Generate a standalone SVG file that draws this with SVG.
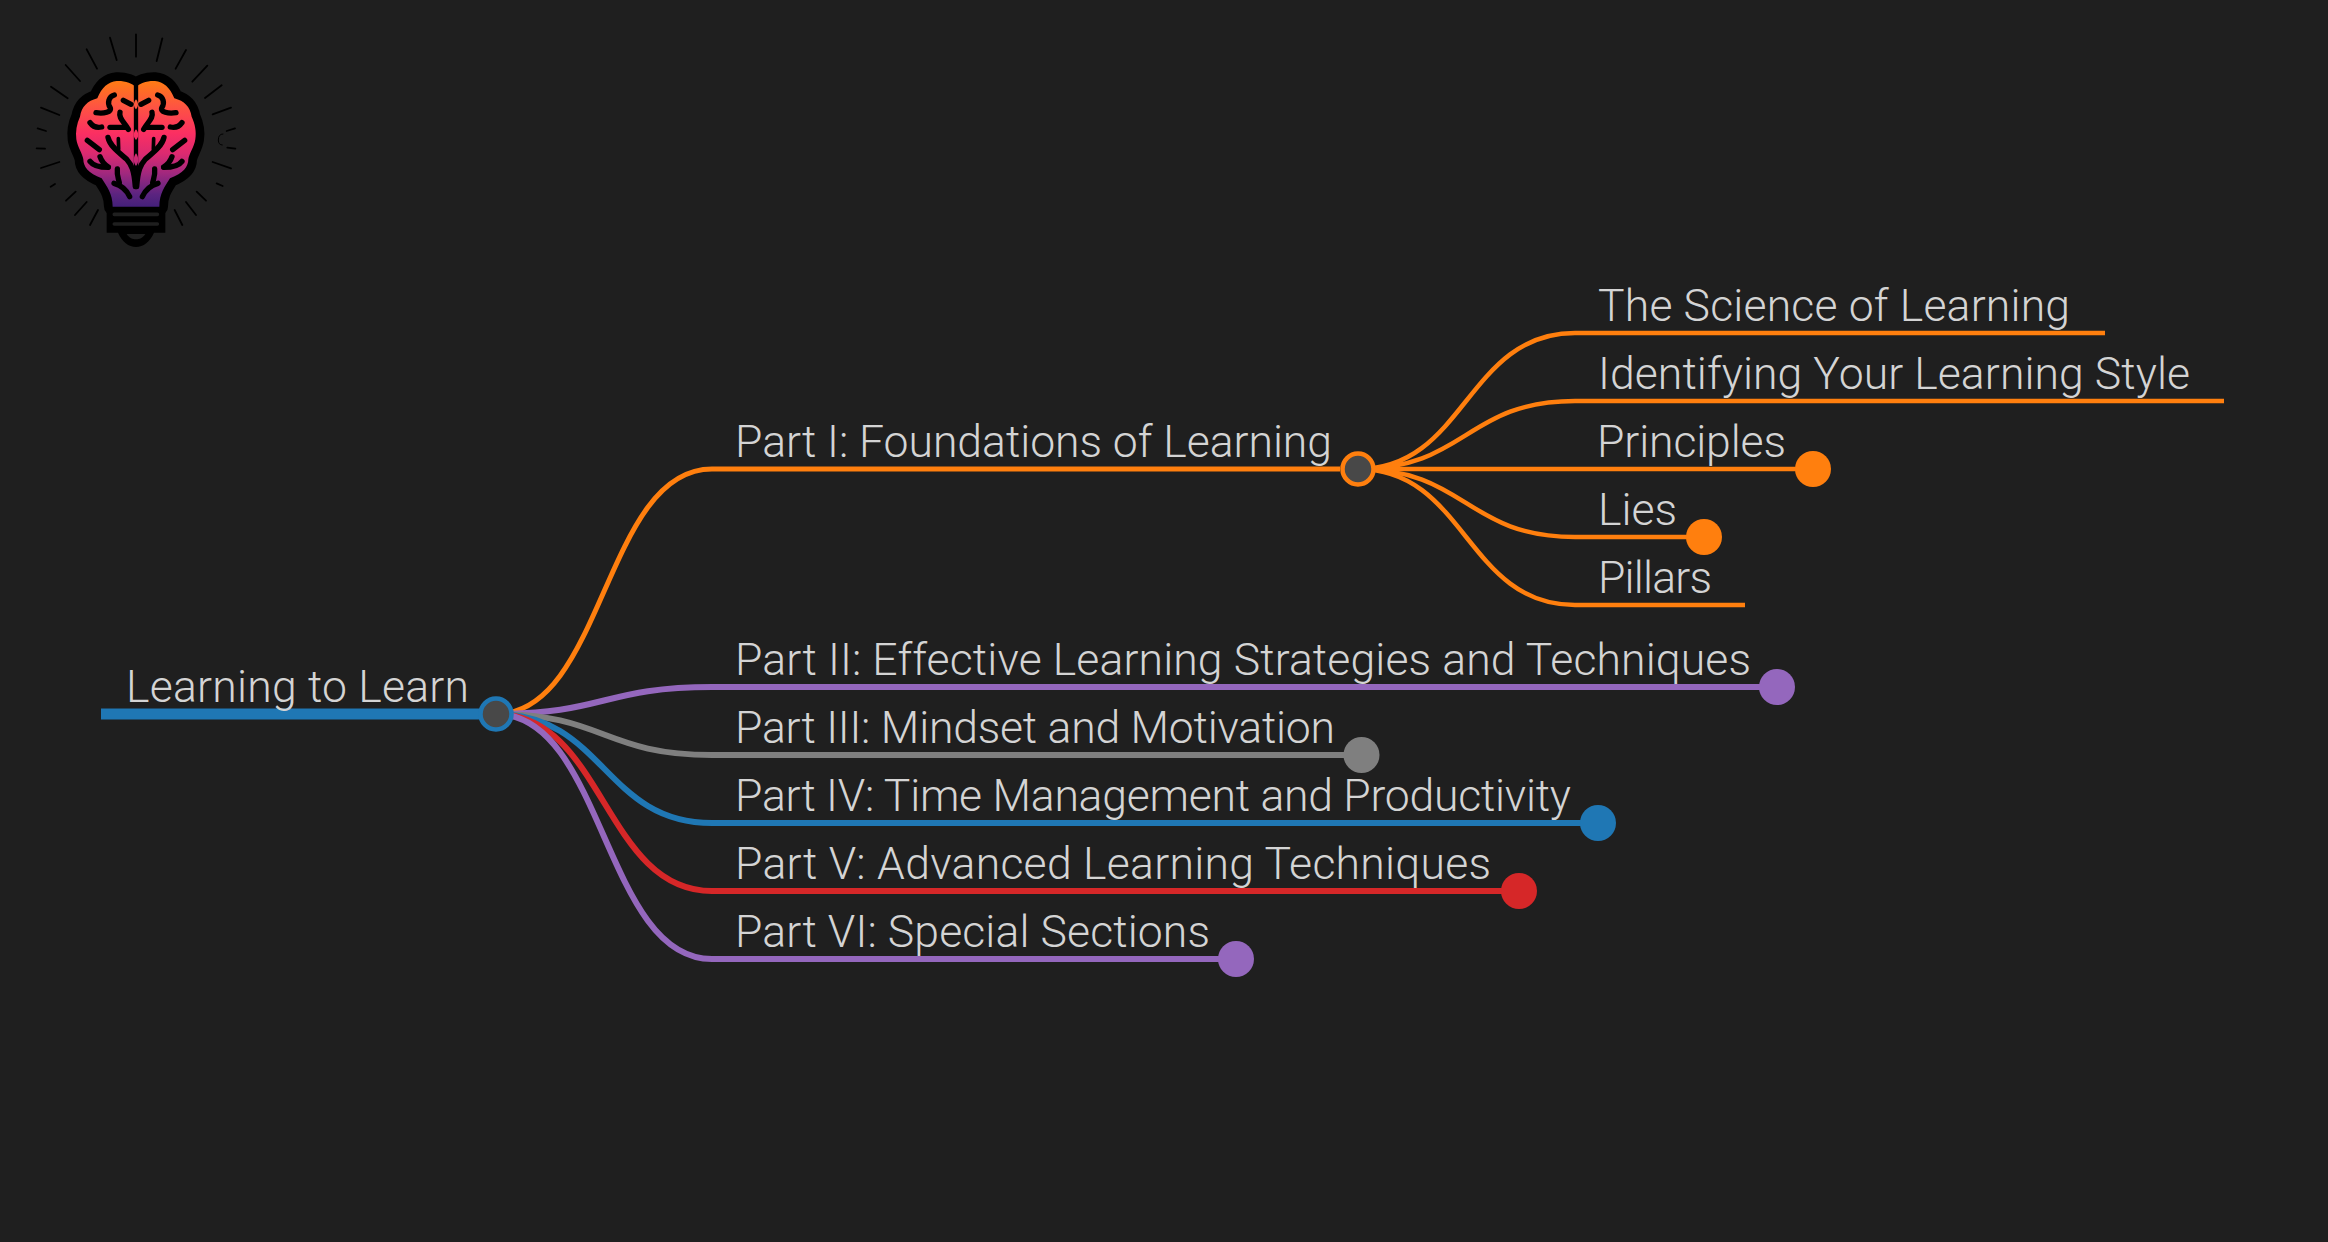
<svg xmlns="http://www.w3.org/2000/svg" xmlns:xlink="http://www.w3.org/1999/xlink" width="2328" height="1242" viewBox="0 0 2328 1242">
<style>
text{font-family:Roboto,"Liberation Sans",Arial,sans-serif;font-weight:300;font-size:44.5px;fill:#d4d4d4}
.l{fill:none;stroke-width:6}
.l3{fill:none;stroke-width:4.5;stroke:#ff7f0e}
.o{stroke:#ff7f0e;stroke-width:5}.p{stroke:#9467bd}.g{stroke:#7f7f7f}.b{stroke:#1f77b4}.r{stroke:#d62728}
.hub{fill:#484848;stroke-width:4.5}
.ray{stroke:#000;stroke-width:5.5;stroke-linecap:round;fill:none}
.v{stroke:#000;stroke-width:16;stroke-linecap:round;stroke-linejoin:round;fill:none}
.v2{stroke:#000;stroke-width:11;stroke-linecap:round;stroke-linejoin:round;fill:none}
</style>
<defs>
<linearGradient id="bg" gradientUnits="userSpaceOnUse" x1="0" y1="240" x2="0" y2="620">
<stop offset="0" stop-color="#ff7d12"/><stop offset=".2" stop-color="#fe5640"/><stop offset=".42" stop-color="#fb2f62"/><stop offset=".58" stop-color="#dc2a70"/><stop offset=".74" stop-color="#a0287e"/><stop offset=".9" stop-color="#5c2480"/><stop offset="1" stop-color="#44207a"/>
</linearGradient>
<path id="brain" d="M408 262C398 250 375 242 350 243C325 245 305 262 292 295C262 303 245 320 240 350C230 372 226 395 229 418C232 440 248 462 250 478C250 500 265 520 305 535C320 560 338 580 338 620H478C478 580 495 560 510 535C550 520 565 500 565 478C567 462 583 440 586 418C590 395 585 372 575 350C570 320 553 303 523 295C510 262 490 245 465 243C440 242 418 250 408 262Z"/>
<g id="veins">
<path class="v" d="M343 285C325 290 322 310 330 322C338 336 310 342 288 338"/>
<path class="v" d="M370 301L393 313"/>
<path class="v" d="M360 337C355 355 372 365 385 388"/>
<path class="v" d="M330 382L378 382"/>
<path class="v" d="M270 368C280 382 292 384 305 381"/>
<path class="v" d="M262 421L298 449"/>
<path class="v" d="M324 412C330 440 360 460 380 478C395 495 402 510 406 560"/>
<path class="v2" d="M355 416L356 448"/>
<path class="v" d="M300 470C305 485 315 495 325 501"/>
<path class="v" d="M270 484C280 498 300 502 325 502"/>
<path class="v" d="M352 507C350 525 355 535 358 548"/>
<path class="v" d="M342 550C360 555 378 565 389 590"/>
</g>
</defs>
<rect width="2328" height="1242" fill="#1f1f1f"/>
<g id="connectors">
<path d="M101 714H480" fill="none" stroke="#1f77b4" stroke-width="11"/>
<path class="l o" d="M496 714C604 714 604 469 712 469H1340"/>
<path class="l p" d="M496 714C604 714 604 687 712 687H1760"/>
<path class="l g" d="M496 714C604 714 604 755 712 755H1345"/>
<path class="l b" d="M496 714C604 714 604 823 712 823H1582"/>
<path class="l r" d="M496 714C604 714 604 891 712 891H1503"/>
<path class="l p" d="M496 714C604 714 604 959 712 959H1220"/>
<path class="l3" d="M1358 469C1466 469 1466 333 1575 333H2105"/>
<path class="l3" d="M1358 469C1466 469 1466 401 1575 401H2224"/>
<path class="l3" d="M1358 469H1797"/>
<path class="l3" d="M1358 469C1466 469 1466 537 1575 537H1690"/>
<path class="l3" d="M1358 469C1466 469 1466 605 1575 605H1745"/>
</g>
<g id="root"><text x="126" y="702" textLength="343">Learning to Learn</text><circle class="hub b" cx="496" cy="714" r="15.5"/></g>
<g id="part1"><text x="735" y="457" textLength="597">Part I: Foundations of Learning</text><circle class="hub o" cx="1358" cy="469" r="15.5"/></g>
<g id="part2"><text x="735" y="675" textLength="1016">Part II: Effective Learning Strategies and Techniques</text><circle cx="1777" cy="687" r="18" fill="#9467bd"/></g>
<g id="part3"><text x="735" y="743" textLength="600">Part III: Mindset and Motivation</text><circle cx="1361.500" cy="755" r="18" fill="#7f7f7f"/></g>
<g id="part4"><text x="735" y="811" textLength="836">Part IV: Time Management and Productivity</text><circle cx="1598" cy="823" r="18" fill="#1f77b4"/></g>
<g id="part5"><text x="735" y="879" textLength="756">Part V: Advanced Learning Techniques</text><circle cx="1519" cy="891" r="18" fill="#d62728"/></g>
<g id="part6"><text x="735" y="947" textLength="475">Part VI: Special Sections</text><circle cx="1236" cy="959" r="18" fill="#9467bd"/></g>
<g id="science"><text x="1598" y="321" textLength="472">The Science of Learning</text></g>
<g id="style"><text x="1598" y="389" textLength="592">Identifying Your Learning Style</text></g>
<g id="principles"><text x="1597" y="457" textLength="189">Principles</text><circle cx="1813" cy="469" r="18" fill="#ff7f0e"/></g>
<g id="lies"><text x="1598" y="525" textLength="79">Lies</text><circle cx="1704" cy="537" r="18" fill="#ff7f0e"/></g>
<g id="pillars"><text x="1598" y="593" textLength="114">Pillars</text></g>
<g id="logo" transform="scale(.33333)">
<g class="ray"><path d="M408 103V170M330 113L350 180M487 115L470 183M260 148L291 206M558 150L527 206M197 195L240 243M622 197L577 245M153 260L203 295M665 256L615 294M123 323L178 345M693 323L638 343M113 385L138 393M705 385L680 393M110 445L135 446M706 446L682 443M123 504L178 486M693 505L638 486M152 560L165 552M668 558L650 550M198 602L227 575M618 602L590 575M225 645L260 606M588 645L558 606M270 675L294 630M547 675L524 630"/></g>
<path d="M670 402Q655 402 655 420Q655 435 668 435" fill="none" stroke="#000" stroke-width="3"/>
<use xlink:href="#brain" href="#brain" fill="#000" stroke="#000" stroke-width="52" stroke-linejoin="round"/>
<path d="M320 610H496V698H462C450 725 430 741 408 741C386 741 366 725 354 698H320Z" fill="#000"/>
<use xlink:href="#brain" href="#brain" fill="url(#bg)"/>
<path d="M408 240V565" stroke="#000" stroke-width="13" fill="none"/>
<use xlink:href="#veins" href="#veins"/>
<use xlink:href="#veins" href="#veins" transform="matrix(-1 0 0 1 816 0)"/>
<path fill="url(#bg)" d="M408 298C416 308 416 320 408 328C400 320 400 308 408 298ZM408 388C417 398 417 412 408 420C399 412 399 398 408 388ZM408 460C417 472 417 488 408 498C399 488 399 472 408 460Z"/>
<path d="M343 643H472M343 672H472" stroke="#1f1f1f" stroke-width="11" stroke-linecap="round" fill="none"/>
<path d="M380 702H436C428 714 418 718 408 718C398 718 388 714 380 702Z" fill="#1f1f1f"/>
</g>
</svg>
